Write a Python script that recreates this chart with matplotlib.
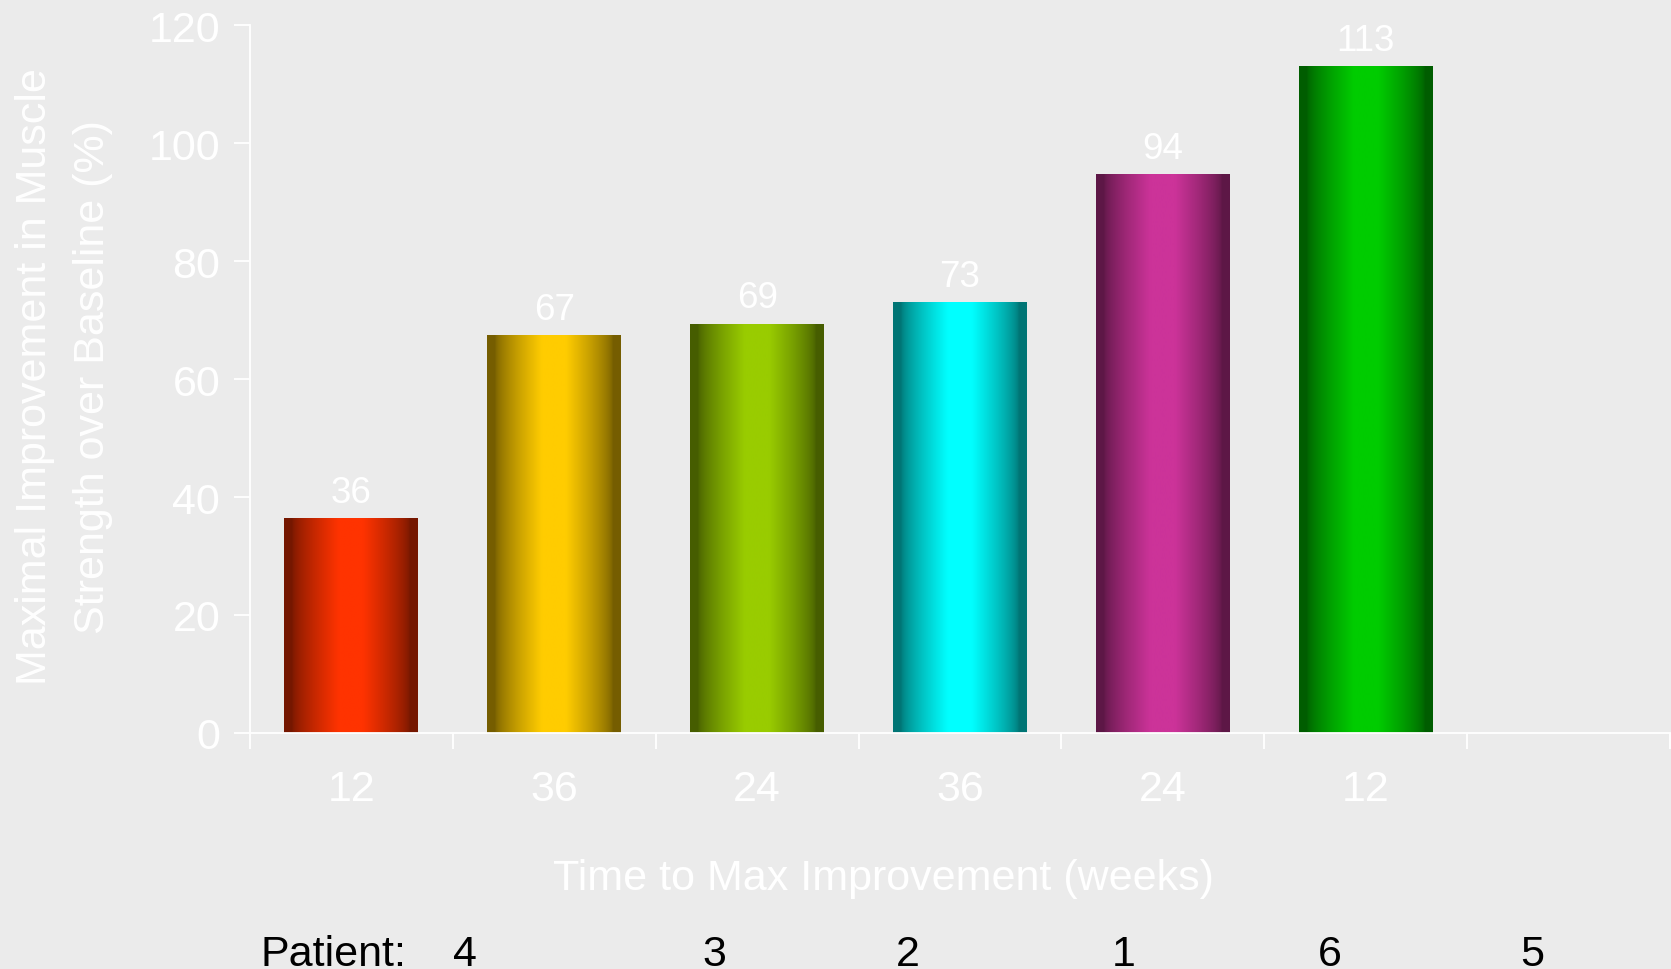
import numpy as np
import matplotlib
matplotlib.use("Agg")
import matplotlib.pyplot as plt
from matplotlib.colors import to_rgb

# ---- data ----
weeks = ["12", "36", "24", "36", "24", "12"]
improvement = [36.4, 67.3, 69.3, 72.9, 94.6, 113.0]
value_labels = ["36", "67", "69", "73", "94", "113"]
bar_colors = ["#FF3300", "#FFCC00", "#99CC00", "#00FFFF", "#CC3399", "#00CC00"]
patients = ["4", "3", "2", "1", "6", "5"]
yticks = [0, 20, 40, 60, 80, 100, 120]
n_slots = 7

BG = "#EBEBEB"
W, H = 1671, 970
FS = 31
plt.rcParams['font.family'] = ['Liberation Sans', 'DejaVu Sans']

fig = plt.figure(figsize=(W / 100, H / 100), dpi=100, facecolor=BG)
ax_left, ax_right = 250 / W, 1670 / W
ax_bottom, ax_top = 1 - 734 / H, 1 - 26 / H
ax = fig.add_axes([ax_left, ax_bottom, ax_right - ax_left, ax_top - ax_bottom])
ax.set_facecolor(BG)

x = np.arange(len(improvement))
bars = ax.bar(x, improvement, width=0.66, color="none", edgecolor="none", zorder=2)

# cylinder-like horizontal gradient
t = np.linspace(0, 1, 400)
d = np.abs(t - 0.5) / 0.5
ramp = np.clip((0.88 - d) / (0.88 - 0.18), 0, 1)
f = np.sqrt(ramp) * 0.5 + ramp * 0.5
for rect, col in zip(bars, bar_colors):
    c = np.array(to_rgb(col))
    edge = c * 0.46
    img = edge[None, :] + (c - edge)[None, :] * f[:, None]
    img = img[None, :, :]
    x0 = rect.get_x()
    ax.imshow(img, extent=[x0, x0 + rect.get_width(), 0, rect.get_height()],
              aspect="auto", interpolation="bilinear", zorder=2)

for rect, lab in zip(bars, value_labels):
    ax.annotate(lab, (rect.get_x() + rect.get_width() / 2, rect.get_height()),
                xytext=(0, 12), textcoords="offset points", ha="center",
                va="baseline", color="white", fontsize=26.5)

ax.set_xlim(-0.5, n_slots - 0.5)
ax.set_ylim(0, 120)
ax.set_yticks(yticks)
ax.set_yticklabels([str(v) for v in yticks])

ax.set_xticks(np.arange(n_slots + 1) - 0.5)
ax.set_xticklabels([])
ax.set_xticks(x, minor=True)
ax.set_xticklabels(weeks, minor=True)

for s in ["top", "right"]:
    ax.spines[s].set_visible(False)
for s in ["left", "bottom"]:
    ax.spines[s].set_color("white")
    ax.spines[s].set_linewidth(1.3)

ax.tick_params(axis="y", which="major", direction="out", length=11.5, width=1.3,
               color="white", labelcolor="white", labelsize=FS, pad=10)
ax.tick_params(axis="x", which="major", direction="out", length=11.5, width=1.3,
               color="white")
ax.tick_params(axis="x", which="minor", length=0, labelcolor="white",
               labelsize=FS, pad=26)

fig.text(64 / W, 1 - 377 / H,
         "Maximal Improvement in Muscle\nStrength over Baseline (%)",
         rotation=90, ha="center", va="center", multialignment="center",
         color="white", fontsize=FS, linespacing=1.55)
fig.text(883 / W, 1 - 879 / H, "Time to Max Improvement (weeks)",
         ha="center", va="center", color="white", fontsize=FS)

fig.text(261 / W, 1 - 966 / H, "Patient:", ha="left", va="baseline",
         color="black", fontsize=FS)
patient_x = [465, 714, 908, 1124, 1330, 1532]
for px, p in zip(patient_x, patients):
    fig.text(px / W, 1 - 966 / H, p, ha="center", va="baseline",
             color="black", fontsize=FS)

fig.savefig("out.png", dpi=100, facecolor=BG)
